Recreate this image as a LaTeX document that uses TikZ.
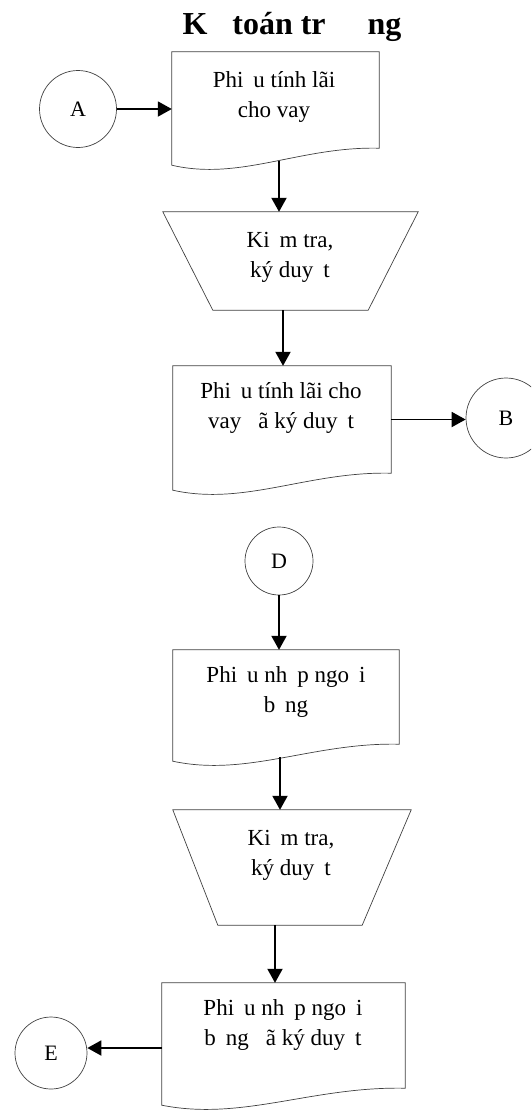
\documentclass[tikz,border=0pt]{standalone}
\usepackage{fontspec}
\setmainfont{Liberation Serif}
\usetikzlibrary{arrows.meta,calc}
\tikzset{
  outline/.style={draw=black!75, line width=0.7pt},
  conn/.style={circle, outline, inner sep=0pt, font=\fontsize{22}{26}\selectfont},
  docbox/.style={rectangle, inner sep=0pt, draw=none},
  txt/.style={align=center, font=\fontsize{23}{30}\selectfont, inner sep=0pt},
  arr/.style={line width=1.9pt, -{Triangle[length=14pt,width=15pt]}},
}
\newcommand\docoutline[1]{%
  \draw[outline] (#1.north west) -- (#1.north east) -- (#1.south east)
    .. controls ($(#1.south west)!0.62!(#1.south east)+(0,-2)$)
       and ($(#1.south west)!0.33!(#1.south east)+(0,33)$)
    .. ($(#1.south west)+(0,17)$) -- cycle;}
\newcommand\trapoutline[3]{%
  \draw[outline] (#1.north west) -- (#1.north east) -- ($(#1.south east)+(-#3,0)$)
    -- ($(#1.south west)+(#2,0)$) -- cycle;}
\newcommand\gp{\hspace{10pt}}
\begin{document}
\begin{tikzpicture}[x=1pt,y=-1pt]
\useasboundingbox (0,0) rectangle (531,1112);
\clip (0,0) rectangle (531,1112);

% title
\node[anchor=base, inner sep=0pt, font=\bfseries\fontsize{32}{36}\selectfont] (title) at (292,34) {K\hspace{25pt}toán tr\hspace{42pt}ng};

% connector circles
\node[conn, minimum size=77pt] (A) at (78,109) {A};
\node[conn, minimum size=80pt] (B) at (506,418) {B};
\node[conn, minimum size=68pt] (D) at (279,561) {D};
\node[conn, minimum size=72pt] (E) at (51,1053) {E};

% documents
\node[docbox, minimum width=207pt, minimum height=96pt] (d1) at (275.5,100) {};
\node[docbox, minimum width=218pt, minimum height=107pt] (d2) at (282,419.5) {};
\node[docbox, minimum width=226pt, minimum height=94pt] (d3) at (286,697) {};
\node[docbox, minimum width=243pt, minimum height=105pt] (d4) at (283.5,1035.5) {};
\docoutline{d1}
\docoutline{d2}
\docoutline{d3}
\docoutline{d4}

% trapezia
\node[docbox, minimum width=255pt, minimum height=98pt] (t1) at (290.5,261) {};
\node[docbox, minimum width=238pt, minimum height=115pt] (t2) at (292,867.5) {};
\trapoutline{t1}{50}{50}
\trapoutline{t2}{45}{49}

% texts
\node[txt] (d1t) at (274,97) {Phi\gp u tính lãi\\cho vay};
\node[txt] (t1t) at (290,257) {Ki\gp m tra,\\ký duy\gp t};
\node[txt] (d2t) at (281,408) {Phi\gp u tính lãi cho\\vay\hspace{17pt}ã ký duy\gp t};
\node[txt] (d3t) at (286,692) {Phi\gp u nh\gp p ngo\gp i\\b\gp ng};
\node[txt] (t2t) at (291,855) {Ki\gp m tra,\\ký duy\gp t};
\node[txt] (d4t) at (283,1025) {Phi\gp u nh\gp p ngo\gp i\\b\gp ng\hspace{17pt}ã ký duy\gp t};

% arrows
\draw[arr] (A) -- (A -| d1.west);
\coordinate (d1out) at (279,161);
\draw[arr] (d1out) -- (d1out |- t1.north);
\draw[arr] ([xshift=-7.5pt]t1.south) -- ([xshift=-7.5pt]t1.south |- d2.north);
\draw[arr] (d2.east) -- (d2.east -| B.west);
\draw[arr] (D) -- (D |- d3.north);
\coordinate (d3out) at (280,757);
\draw[arr] (d3out) -- (d3out |- t2.north);
\draw[arr] ([xshift=-17pt]t2.south) -- ([xshift=-17pt]t2.south |- d4.north);
\coordinate (d4in) at (d4.west |- 0,1048);
\draw[arr] (d4in) -- (d4in -| E.east);
\end{tikzpicture}
\end{document}
